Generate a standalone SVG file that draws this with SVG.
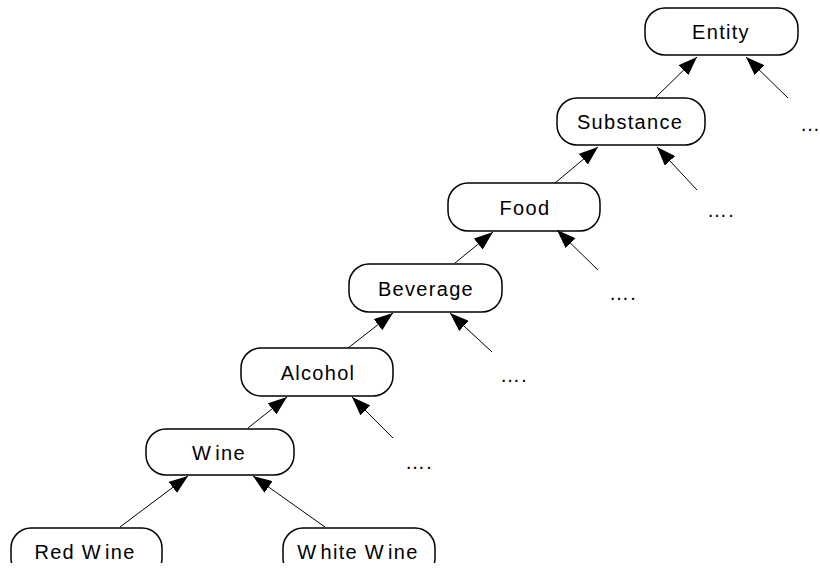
<svg xmlns="http://www.w3.org/2000/svg" width="820" height="573" viewBox="0 0 820 573">
<style>
.node rect{fill:#fff;stroke:#000;stroke-width:1.5}
text{font-family:"Liberation Sans",Arial,sans-serif;font-size:20px;letter-spacing:1.3px;fill:#000}
.lbl{text-anchor:middle}
.edges line{stroke:#000;stroke-width:1;marker-end:url(#arr)}
</style>
<defs>
<marker id="arr" markerUnits="userSpaceOnUse" markerWidth="20" markerHeight="14" refX="19" refY="7" orient="auto">
<path d="M0,0 L19,7 L0,14 z" fill="#000"/>
</marker>
<clipPath id="crop"><rect x="0" y="0" width="820" height="563"/></clipPath>
</defs>
<rect width="820" height="573" fill="#fff"/>
<g clip-path="url(#crop)">
<g id="entity" class="node"><rect x="645" y="8" width="153" height="47" rx="20"/><text class="lbl" x="721" y="39">Entity</text></g>
<g id="substance" class="node"><rect x="557" y="98" width="148" height="47" rx="20"/><text class="lbl" x="630" y="129">Substance</text></g>
<g id="food" class="node"><rect x="448" y="183" width="152" height="48" rx="20"/><text class="lbl" x="525" y="215">Food</text></g>
<g id="beverage" class="node"><rect x="349" y="264" width="153" height="48" rx="20"/><text class="lbl" x="426" y="296">Beverage</text></g>
<g id="alcohol" class="node"><rect x="241" y="348" width="152" height="48" rx="20"/><text class="lbl" x="318" y="380">Alcohol</text></g>
<g id="wine" class="node"><rect x="146" y="429" width="148" height="46" rx="20"/><text class="lbl" x="219" y="460">W<tspan dx="3">ine</tspan></text></g>
<g id="redwine" class="node"><rect x="11" y="528" width="151" height="50" rx="20"/><text class="lbl" x="85" y="559">Red W<tspan dx="3">ine</tspan></text></g>
<g id="whitewine" class="node"><rect x="283" y="528" width="152" height="50" rx="20"/><text class="lbl" x="358" y="559">W<tspan dx="3">hite W</tspan><tspan dx="3">ine</tspan></text></g>
</g>
<g id="more">
<text x="800" y="131">…</text>
<text x="707" y="217">….</text>
<text x="609" y="300">….</text>
<text x="500" y="382">….</text>
<text x="405" y="469">….</text>
</g>
<g class="edges" id="connectors">
<line x1="655" y1="98" x2="697" y2="57"/>
<line x1="788" y1="98" x2="746" y2="57"/>
<line x1="555" y1="183" x2="598" y2="147"/>
<line x1="697" y1="190" x2="657" y2="147"/>
<line x1="455" y1="263" x2="493" y2="232"/>
<line x1="598" y1="270" x2="557" y2="230"/>
<line x1="348" y1="348" x2="393" y2="313"/>
<line x1="492" y1="352" x2="450" y2="313"/>
<line x1="248" y1="428" x2="287" y2="397"/>
<line x1="393" y1="438" x2="352" y2="397"/>
<line x1="120" y1="527" x2="188" y2="476"/>
<line x1="325" y1="527" x2="253" y2="476"/>
</g>
</svg>
